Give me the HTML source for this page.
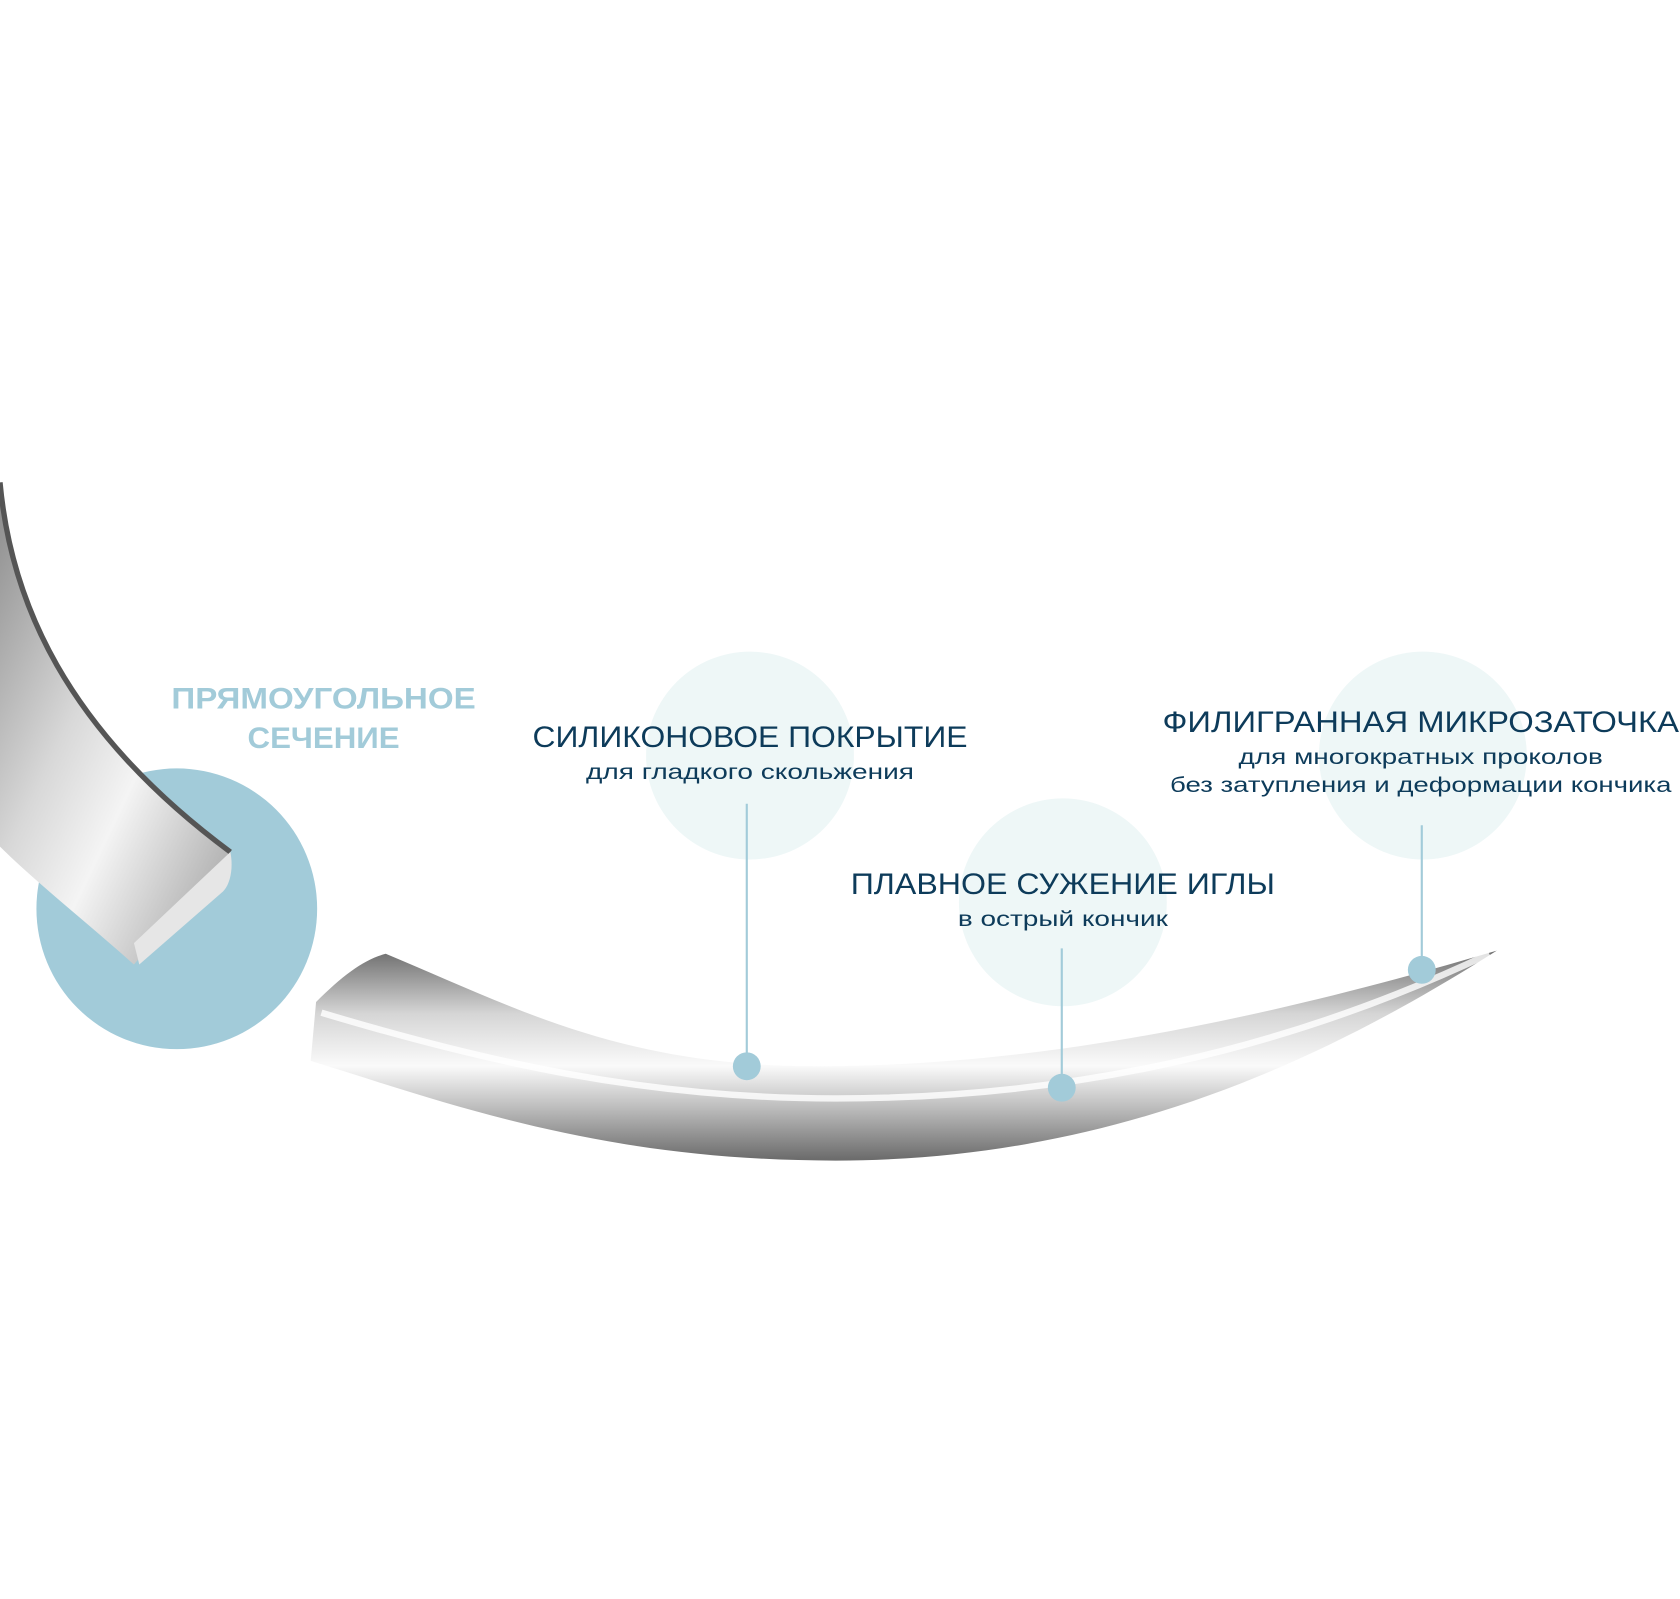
<!DOCTYPE html>
<html><head><meta charset="utf-8"><style>
html,body{margin:0;padding:0;background:#fff;}
svg{display:block;}
text{font-family:"Liberation Sans","DejaVu Sans",sans-serif;}
</style></head><body>
<svg width="1680" height="1599" viewBox="0 0 1568 1492" xmlns="http://www.w3.org/2000/svg">
<defs>
<linearGradient id="g1" x1="0" y1="0" x2="1" y2="1">
<stop offset="0" stop-color="#8a8a8a"/><stop offset="0.4" stop-color="#d8d8d8"/><stop offset="0.6" stop-color="#f4f4f4"/><stop offset="1" stop-color="#9a9a9a"/>
</linearGradient>
<linearGradient id="g2" x1="0" y1="0" x2="0" y2="1">
<stop offset="0" stop-color="#6e6e6e"/><stop offset="0.3" stop-color="#d5d5d5"/><stop offset="0.55" stop-color="#fafafa"/><stop offset="0.75" stop-color="#bcbcbc"/><stop offset="1" stop-color="#6a6a6a"/>
</linearGradient>
</defs>
<rect width="1568" height="1492" fill="#fff"/>
<circle cx="165" cy="848" r="131" fill="#a2cbd9"/>
<circle cx="700" cy="705" r="97" fill="#eef7f7"/>
<circle cx="992" cy="842" r="97" fill="#eef7f7"/>
<circle cx="1328" cy="705" r="97" fill="#eef7f7"/>
<!-- left needle piece -->
<path d="M0,450 C10,560 60,680 215,795 L125,900 C80,860 30,820 0,790 Z" fill="url(#g1)"/>
<path d="M0,450 C10,560 60,680 215,795" fill="none" stroke="#555" stroke-width="5"/>
<path d="M125,880 L215,795 C218,810 215,825 208,832 L130,900 Z" fill="#e6e6e6"/>
<!-- main needle -->
<path d="M360,890 C480,940 580,995 760,995 C950,995 1150,960 1397,887 C1250,980 1050,1083 780,1083 C560,1083 420,1030 290,990 L295,935 C320,910 340,895 360,890 Z" fill="url(#g2)"/>
<path d="M300,945 C450,990 600,1025 780,1025 C1000,1025 1200,980 1390,890" fill="none" stroke="#fff" stroke-width="6" opacity="0.8"/>
<!-- connectors -->
<g stroke="#a2cbd9" stroke-width="2">
<line x1="697" y1="750" x2="697" y2="995"/>
<line x1="991" y1="885" x2="991" y2="1015"/>
<line x1="1327" y1="770" x2="1327" y2="905"/>
</g>
<g fill="#a2cbd9">
<circle cx="697" cy="995" r="13"/><circle cx="991" cy="1015" r="13"/><circle cx="1327" cy="905" r="13"/>
</g>
<!-- text -->
<g text-anchor="middle">
<text x="302" y="661" font-size="28" font-weight="bold" fill="#a2cbd9" textLength="284" lengthAdjust="spacingAndGlyphs">ПРЯМОУГОЛЬНОЕ</text>
<text x="302" y="698" font-size="28" font-weight="bold" fill="#a2cbd9" textLength="142" lengthAdjust="spacingAndGlyphs">СЕЧЕНИЕ</text>
<text x="700" y="697" font-size="28" fill="#0d3b5a" textLength="406" lengthAdjust="spacingAndGlyphs">СИЛИКОНОВОЕ ПОКРЫТИЕ</text>
<text x="700" y="727" font-size="20" fill="#0d3b5a" textLength="306" lengthAdjust="spacingAndGlyphs">для гладкого скольжения</text>
<text x="992" y="834" font-size="28" fill="#0d3b5a" textLength="396" lengthAdjust="spacingAndGlyphs">ПЛАВНОЕ СУЖЕНИЕ ИГЛЫ</text>
<text x="992" y="864" font-size="20" fill="#0d3b5a" textLength="196" lengthAdjust="spacingAndGlyphs">в острый кончик</text>
<text x="1326" y="683" font-size="28" fill="#0d3b5a" textLength="482" lengthAdjust="spacingAndGlyphs">ФИЛИГРАННАЯ МИКРОЗАТОЧКА</text>
<text x="1326" y="713" font-size="20" fill="#0d3b5a" textLength="340" lengthAdjust="spacingAndGlyphs">для многократных проколов</text>
<text x="1326" y="739" font-size="20" fill="#0d3b5a" textLength="468" lengthAdjust="spacingAndGlyphs">без затупления и деформации кончика</text>
</g>
</svg>
</body></html>
